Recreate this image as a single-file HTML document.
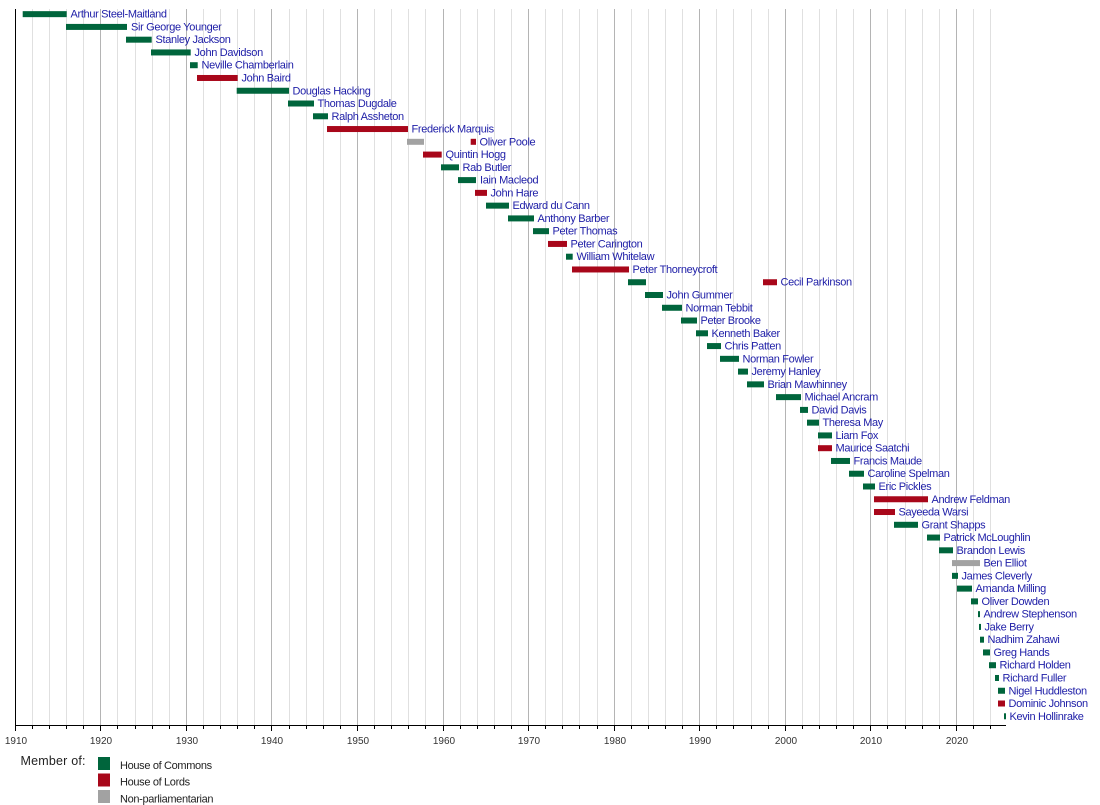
<!DOCTYPE html>
<html>
<head>
<meta charset="utf-8">
<style>
html,body{margin:0;padding:0;background:#fff;}
body{width:1100px;height:805px;overflow:hidden;}
svg{display:block;}
.lbl{font-family:"Liberation Sans",Arial,sans-serif;font-size:11px;letter-spacing:-0.34px;fill:#2020a8;}
.tk{font-family:"Liberation Sans",Arial,sans-serif;font-size:10px;fill:#333;}
.lg{font-family:"Liberation Sans",Arial,sans-serif;font-size:11px;letter-spacing:-0.34px;fill:#222;}
.G{fill:#00653c;} .R{fill:#a8071a;} .Y{fill:#a2a2a2;}
</style>
</head>
<body>
<svg width="1100" height="805" viewBox="0 0 1100 805" xmlns="http://www.w3.org/2000/svg">
<!-- minor grid -->
<path shape-rendering="crispEdges" stroke="#e0e0e0" stroke-width="1" fill="none" d="
M32.5 9V725 M49.5 9V725 M66.5 9V725 M83.5 9V725
M117.5 9V725 M135.5 9V725 M152.5 9V725 M169.5 9V725
M203.5 9V725 M220.5 9V725 M237.5 9V725 M254.5 9V725
M289.5 9V725 M306.5 9V725 M323.5 9V725 M340.5 9V725
M374.5 9V725 M391.5 9V725 M408.5 9V725 M425.5 9V725
M460.5 9V725 M477.5 9V725 M494.5 9V725 M511.5 9V725
M545.5 9V725 M562.5 9V725 M579.5 9V725 M597.5 9V725
M631.5 9V725 M648.5 9V725 M665.5 9V725 M682.5 9V725
M716.5 9V725 M733.5 9V725 M751.5 9V725 M768.5 9V725
M802.5 9V725 M819.5 9V725 M836.5 9V725 M853.5 9V725
M887.5 9V725 M905.5 9V725 M922.5 9V725 M939.5 9V725
M973.5 9V725 M990.5 9V725"/>
<!-- major grid -->
<path shape-rendering="crispEdges" stroke="#b4b4b4" stroke-width="1" fill="none" d="
M100.5 9V725 M186.5 9V725 M271.5 9V725 M357.5 9V725 M443.5 9V725 M528.5 9V725
M614.5 9V725 M699.5 9V725 M785.5 9V725 M870.5 9V725 M956.5 9V725"/>
<!-- axes -->
<path shape-rendering="crispEdges" stroke="#000" stroke-width="1" fill="none" d="M15.5 9V725.5 M15 725.5H1006"/>
<!-- ticks -->
<path shape-rendering="crispEdges" stroke="#000" stroke-width="1" fill="none" d="
M15.5 725V731 M100.5 725V731 M186.5 725V731 M271.5 725V731 M357.5 725V731 M443.5 725V731 M528.5 725V731
M614.5 725V731 M699.5 725V731 M785.5 725V731 M870.5 725V731 M956.5 725V731
M32.5 725V729 M49.5 725V729 M66.5 725V729 M83.5 725V729
M117.5 725V729 M135.5 725V729 M152.5 725V729 M169.5 725V729
M203.5 725V729 M220.5 725V729 M237.5 725V729 M254.5 725V729
M289.5 725V729 M306.5 725V729 M323.5 725V729 M340.5 725V729
M374.5 725V729 M391.5 725V729 M408.5 725V729 M425.5 725V729
M460.5 725V729 M477.5 725V729 M494.5 725V729 M511.5 725V729
M545.5 725V729 M562.5 725V729 M579.5 725V729 M597.5 725V729
M631.5 725V729 M648.5 725V729 M665.5 725V729 M682.5 725V729
M716.5 725V729 M733.5 725V729 M751.5 725V729 M768.5 725V729
M802.5 725V729 M819.5 725V729 M836.5 725V729 M853.5 725V729
M887.5 725V729 M905.5 725V729 M922.5 725V729 M939.5 725V729
M973.5 725V729 M990.5 725V729"/>
<!-- tick labels -->
<g class="tk" text-anchor="middle">
<text x="16" y="744">1910</text>
<text x="101" y="744">1920</text>
<text x="187" y="744">1930</text>
<text x="272" y="744">1940</text>
<text x="358" y="744">1950</text>
<text x="444" y="744">1960</text>
<text x="529" y="744">1970</text>
<text x="615" y="744">1980</text>
<text x="700" y="744">1990</text>
<text x="786" y="744">2000</text>
<text x="871" y="744">2010</text>
<text x="957" y="744">2020</text>
</g>

<!-- rows -->
<g transform="translate(0,14.15)"><rect class="G" x="22.7" y="-3" width="44" height="6"/><text class="lbl" x="70.5" y="3.5">Arthur Steel-Maitland</text></g>
<g transform="translate(0,26.92)"><rect class="G" x="66" y="-3" width="61" height="6"/><text class="lbl" x="131" y="3.5">Sir George Younger</text></g>
<g transform="translate(0,39.68)"><rect class="G" x="126" y="-3" width="25.7" height="6"/><text class="lbl" x="155.5" y="3.5">Stanley Jackson</text></g>
<g transform="translate(0,52.45)"><rect class="G" x="151" y="-3" width="39.7" height="6"/><text class="lbl" x="194.5" y="3.5">John Davidson</text></g>
<g transform="translate(0,65.21)"><rect class="G" x="190" y="-3" width="7.7" height="6"/><text class="lbl" x="201.5" y="3.5">Neville Chamberlain</text></g>
<g transform="translate(0,77.98)"><rect class="R" x="197" y="-3" width="40.7" height="6"/><text class="lbl" x="241.5" y="3.5">John Baird</text></g>
<g transform="translate(0,90.75)"><rect class="G" x="236.7" y="-3" width="52.3" height="6"/><text class="lbl" x="292.5" y="3.5">Douglas Hacking</text></g>
<g transform="translate(0,103.51)"><rect class="G" x="288" y="-3" width="26" height="6"/><text class="lbl" x="317.5" y="3.5">Thomas Dugdale</text></g>
<g transform="translate(0,116.28)"><rect class="G" x="313" y="-3" width="15" height="6"/><text class="lbl" x="331.5" y="3.5">Ralph Assheton</text></g>
<g transform="translate(0,129.04)"><rect class="R" x="327" y="-3" width="81" height="6"/><text class="lbl" x="411.5" y="3.5">Frederick Marquis</text></g>
<g transform="translate(0,141.81)"><rect class="Y" x="407" y="-3" width="17" height="6"/><rect class="R" x="470.7" y="-3" width="5.3" height="6"/><text class="lbl" x="479.5" y="3.5">Oliver Poole</text></g>
<g transform="translate(0,154.58)"><rect class="R" x="423" y="-3" width="18.7" height="6"/><text class="lbl" x="445.5" y="3.5">Quintin Hogg</text></g>
<g transform="translate(0,167.34)"><rect class="G" x="441" y="-3" width="18" height="6"/><text class="lbl" x="462.5" y="3.5">Rab Butler</text></g>
<g transform="translate(0,180.11)"><rect class="G" x="458" y="-3" width="18" height="6"/><text class="lbl" x="480" y="3.5">Iain Macleod</text></g>
<g transform="translate(0,192.87)"><rect class="R" x="475" y="-3" width="12" height="6"/><text class="lbl" x="490.5" y="3.5">John Hare</text></g>
<g transform="translate(0,205.64)"><rect class="G" x="486" y="-3" width="23" height="6"/><text class="lbl" x="512.5" y="3.5">Edward du Cann</text></g>
<g transform="translate(0,218.41)"><rect class="G" x="508" y="-3" width="26" height="6"/><text class="lbl" x="537.5" y="3.5">Anthony Barber</text></g>
<g transform="translate(0,231.17)"><rect class="G" x="533" y="-3" width="16" height="6"/><text class="lbl" x="552.5" y="3.5">Peter Thomas</text></g>
<g transform="translate(0,243.94)"><rect class="R" x="548" y="-3" width="19" height="6"/><text class="lbl" x="570.5" y="3.5">Peter Carington</text></g>
<g transform="translate(0,256.70)"><rect class="G" x="566" y="-3" width="6.7" height="6"/><text class="lbl" x="576.5" y="3.5">William Whitelaw</text></g>
<g transform="translate(0,269.47)"><rect class="R" x="572" y="-3" width="57" height="6"/><text class="lbl" x="632.5" y="3.5">Peter Thorneycroft</text></g>
<g transform="translate(0,282.24)"><rect class="G" x="628" y="-3" width="18" height="6"/><rect class="R" x="763" y="-3" width="14" height="6"/><text class="lbl" x="780.5" y="3.5">Cecil Parkinson</text></g>
<g transform="translate(0,295.00)"><rect class="G" x="645" y="-3" width="18" height="6"/><text class="lbl" x="666.5" y="3.5">John Gummer</text></g>
<g transform="translate(0,307.77)"><rect class="G" x="662" y="-3" width="20" height="6"/><text class="lbl" x="685.5" y="3.5">Norman Tebbit</text></g>
<g transform="translate(0,320.53)"><rect class="G" x="681" y="-3" width="16" height="6"/><text class="lbl" x="700.5" y="3.5">Peter Brooke</text></g>
<g transform="translate(0,333.30)"><rect class="G" x="696" y="-3" width="12" height="6"/><text class="lbl" x="711.5" y="3.5">Kenneth Baker</text></g>
<g transform="translate(0,346.07)"><rect class="G" x="707" y="-3" width="14" height="6"/><text class="lbl" x="724.5" y="3.5">Chris Patten</text></g>
<g transform="translate(0,358.83)"><rect class="G" x="720" y="-3" width="19" height="6"/><text class="lbl" x="742.5" y="3.5">Norman Fowler</text></g>
<g transform="translate(0,371.60)"><rect class="G" x="738" y="-3" width="10" height="6"/><text class="lbl" x="751.5" y="3.5">Jeremy Hanley</text></g>
<g transform="translate(0,384.36)"><rect class="G" x="747" y="-3" width="17" height="6"/><text class="lbl" x="767.5" y="3.5">Brian Mawhinney</text></g>
<g transform="translate(0,397.13)"><rect class="G" x="776" y="-3" width="25" height="6"/><text class="lbl" x="804.5" y="3.5">Michael Ancram</text></g>
<g transform="translate(0,409.90)"><rect class="G" x="800" y="-3" width="8" height="6"/><text class="lbl" x="811.5" y="3.5">David Davis</text></g>
<g transform="translate(0,422.66)"><rect class="G" x="807" y="-3" width="12" height="6"/><text class="lbl" x="822.5" y="3.5">Theresa May</text></g>
<g transform="translate(0,435.43)"><rect class="G" x="818" y="-3" width="14" height="6"/><text class="lbl" x="835.5" y="3.5">Liam Fox</text></g>
<g transform="translate(0,448.19)"><rect class="R" x="818" y="-3" width="14" height="6"/><text class="lbl" x="835.5" y="3.5">Maurice Saatchi</text></g>
<g transform="translate(0,460.96)"><rect class="G" x="831" y="-3" width="19" height="6"/><text class="lbl" x="853.5" y="3.5">Francis Maude</text></g>
<g transform="translate(0,473.73)"><rect class="G" x="849" y="-3" width="15" height="6"/><text class="lbl" x="867.5" y="3.5">Caroline Spelman</text></g>
<g transform="translate(0,486.49)"><rect class="G" x="863" y="-3" width="12" height="6"/><text class="lbl" x="878.5" y="3.5">Eric Pickles</text></g>
<g transform="translate(0,499.26)"><rect class="R" x="874" y="-3" width="54" height="6"/><text class="lbl" x="931.5" y="3.5">Andrew Feldman</text></g>
<g transform="translate(0,512.02)"><rect class="R" x="874" y="-3" width="21" height="6"/><text class="lbl" x="898.5" y="3.5">Sayeeda Warsi</text></g>
<g transform="translate(0,524.79)"><rect class="G" x="894" y="-3" width="24" height="6"/><text class="lbl" x="921.5" y="3.5">Grant Shapps</text></g>
<g transform="translate(0,537.56)"><rect class="G" x="927" y="-3" width="13" height="6"/><text class="lbl" x="943.5" y="3.5">Patrick McLoughlin</text></g>
<g transform="translate(0,550.32)"><rect class="G" x="939" y="-3" width="14" height="6"/><text class="lbl" x="956.5" y="3.5">Brandon Lewis</text></g>
<g transform="translate(0,563.09)"><rect class="Y" x="952" y="-3" width="28" height="6"/><text class="lbl" x="983.5" y="3.5">Ben Elliot</text></g>
<g transform="translate(0,575.85)"><rect class="G" x="952" y="-3" width="6" height="6"/><text class="lbl" x="961.5" y="3.5">James Cleverly</text></g>
<g transform="translate(0,588.62)"><rect class="G" x="957" y="-3" width="15" height="6"/><text class="lbl" x="975.5" y="3.5">Amanda Milling</text></g>
<g transform="translate(0,601.39)"><rect class="G" x="971" y="-3" width="7" height="6"/><text class="lbl" x="981.5" y="3.5">Oliver Dowden</text></g>
<g transform="translate(0,614.15)"><rect class="G" x="978" y="-3" width="2" height="6"/><text class="lbl" x="983.5" y="3.5">Andrew Stephenson</text></g>
<g transform="translate(0,626.92)"><rect class="G" x="979" y="-3" width="2" height="6"/><text class="lbl" x="984.5" y="3.5">Jake Berry</text></g>
<g transform="translate(0,639.68)"><rect class="G" x="980" y="-3" width="4" height="6"/><text class="lbl" x="987.5" y="3.5">Nadhim Zahawi</text></g>
<g transform="translate(0,652.45)"><rect class="G" x="983" y="-3" width="7" height="6"/><text class="lbl" x="993.5" y="3.5">Greg Hands</text></g>
<g transform="translate(0,665.22)"><rect class="G" x="989" y="-3" width="7" height="6"/><text class="lbl" x="999.5" y="3.5">Richard Holden</text></g>
<g transform="translate(0,677.98)"><rect class="G" x="995" y="-3" width="4" height="6"/><text class="lbl" x="1002.5" y="3.5">Richard Fuller</text></g>
<g transform="translate(0,690.75)"><rect class="G" x="998" y="-3" width="7" height="6"/><text class="lbl" x="1008.5" y="3.5">Nigel Huddleston</text></g>
<g transform="translate(0,703.51)"><rect class="R" x="998" y="-3" width="7" height="6"/><text class="lbl" x="1008.5" y="3.5">Dominic Johnson</text></g>
<g transform="translate(0,716.28)"><rect class="G" x="1004" y="-3" width="2" height="6"/><text class="lbl" x="1009.5" y="3.5">Kevin Hollinrake</text></g>

<!-- legend -->
<text x="20.5" y="765" style="font-family:'Liberation Sans',Arial,sans-serif;font-size:12.5px;letter-spacing:0.2px;fill:#222;">Member of:</text>
<rect class="G" x="98" y="757" width="12" height="13"/>
<rect class="R" x="98" y="773.5" width="12" height="13"/>
<rect class="Y" x="98" y="790" width="12" height="13"/>
<text class="lg" x="120" y="769">House of Commons</text>
<text class="lg" x="120" y="785.7">House of Lords</text>
<text class="lg" x="120" y="802.5">Non-parliamentarian</text>
</svg>
</body>
</html>
